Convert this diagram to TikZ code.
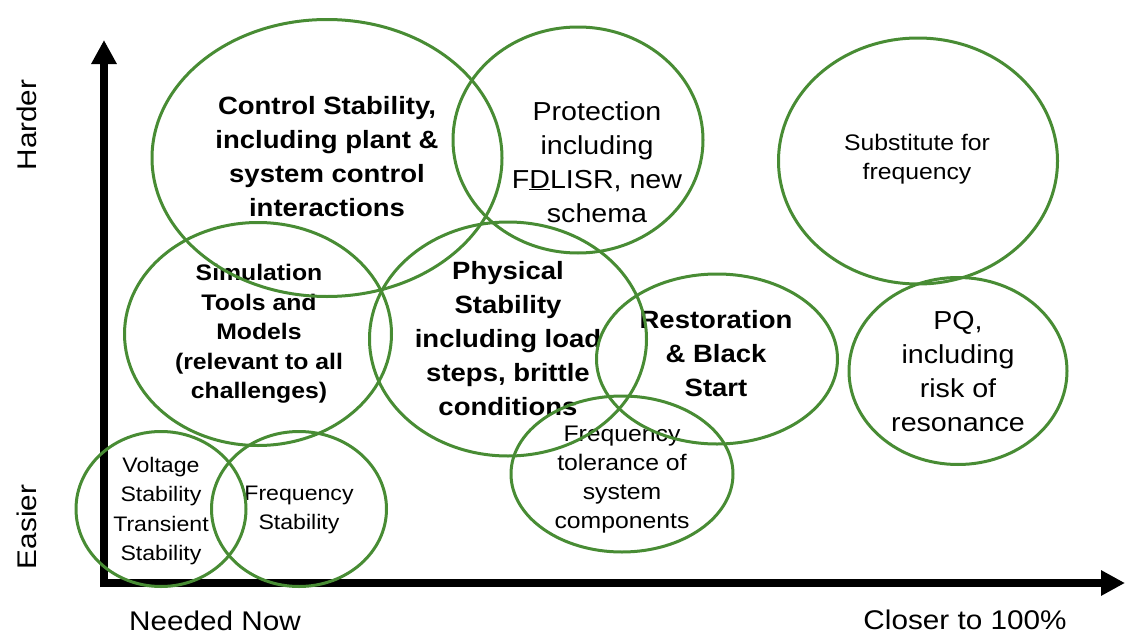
\documentclass[tikz,border=0pt]{standalone}
\usepackage{fontspec}
\setmainfont[FakeStretch=1.1]{Liberation Sans}
\usetikzlibrary{shapes.geometric,arrows.meta}
\definecolor{blobgreen}{RGB}{72,140,52}
\tikzset{
  blob/.style={ellipse, draw=blobgreen, line width=3pt, inner sep=0pt},
  big/.style={align=center, font=\fontsize{26}{34}\selectfont, inner sep=0pt},
  bigb/.style={align=center, font=\fontsize{25}{34}\selectfont\bfseries, inner sep=0pt},
  midb/.style={align=center, font=\fontsize{22.5}{29.5}\selectfont\bfseries, inner sep=0pt},
  small/.style={align=center, font=\fontsize{21}{29.5}\selectfont, inner sep=0pt},
  smallb/.style={align=center, font=\fontsize{22.5}{29}\selectfont, inner sep=0pt},
  axis/.style={line width=8pt, -{Triangle[length=24pt,width=24pt]}},
  axlabel/.style={font=\fontsize{27}{30}\selectfont, inner sep=0pt}
}
\begin{document}
\begin{tikzpicture}[x=1pt,y=-1pt]
\useasboundingbox (0,0) rectangle (1125,637);
% axes
\coordinate (ytop) at (104,40);
\coordinate (xright) at (1125,583);
\coordinate (ostart) at (104,587);
\coordinate (xstart) at (100,583);
\draw[axis] (ostart) -- (ytop);
\draw[axis] (xstart) -- (xright);
% axis labels
\node[axlabel, rotate=90] (harder) at (27,125) {Harder};
\node[axlabel, rotate=90] (easier) at (27,527) {Easier};
\node[axlabel] (now) at (215,621) {Needed Now};
\node[axlabel] (closer) at (965,620) {Closer to 100\%};
% texts
\node[bigb] (tctrl) at (327,157) {Control Stability,\\including plant \&\\system control\\interactions};
\node[big] (tprot) at (597,162) {Protection\\including\\F\underline{D}LISR, new\\schema};
\node[smallb] (tsubs) at (917,159) {Substitute for\\frequency};
\node[midb] (tsim) at (259,334) {Simulation\\Tools and\\Models\\(relevant to all\\challenges)};
\node[bigb] (tphys) at (508,339) {Physical\\Stability\\including load\\steps, brittle\\conditions};
\node[bigb] (trest) at (716,354) {Restoration\\\& Black\\Start};
\node[big] (tpq) at (958,372) {PQ,\\including\\risk of\\resonance};
\node[small] (tvolt) at (161,511) {Voltage\\Stability\\Transient\\Stability};
\node[small] (tfstab) at (299,510) {Frequency\\Stability};
\node[smallb] (tftol) at (622,480) {Frequency\\tolerance of\\system\\components};
% ellipses
\node[blob, minimum width=350pt, minimum height=277pt] (ctrl) at (327,158) {};
\node[blob, minimum width=250pt, minimum height=226pt] (prot) at (578,140) {};
\node[blob, minimum width=279pt, minimum height=246pt] (subs) at (918,161) {};
\node[blob, minimum width=267pt, minimum height=223pt] (sim) at (258,334) {};
\node[blob, minimum width=277pt, minimum height=234pt] (phys) at (508,339) {};
\node[blob, minimum width=241pt, minimum height=170pt] (rest) at (717,359) {};
\node[blob, minimum width=218pt, minimum height=187pt] (pq) at (958,371) {};
\node[blob, minimum width=170pt, minimum height=155pt] (volt) at (161,509) {};
\node[blob, minimum width=175pt, minimum height=155pt] (fstab) at (299,509) {};
\node[blob, minimum width=222pt, minimum height=156pt] (ftol) at (622,474) {};
\end{tikzpicture}
\end{document}
